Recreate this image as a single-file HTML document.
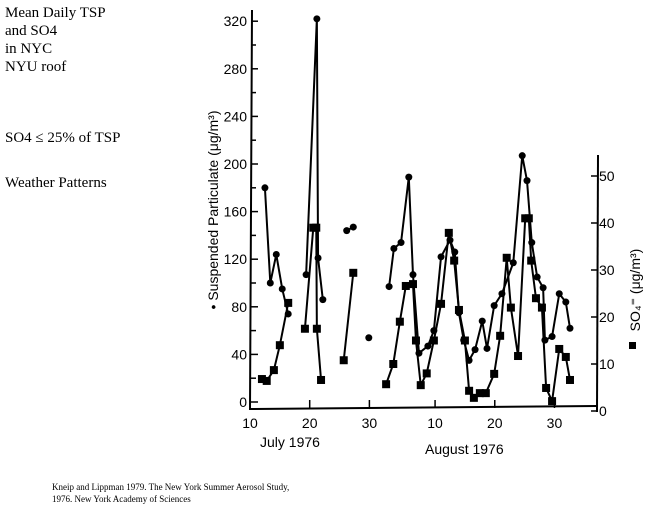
<!DOCTYPE html>
<html><head><meta charset="utf-8"><style>
body{margin:0;background:#fff;width:661px;height:512px;overflow:hidden;position:relative;font-family:"Liberation Serif",serif}
.t{position:absolute;font-size:15px;line-height:18px;color:#000}
</style></head><body>
<div class="t" style="left:5px;top:4px">Mean Daily TSP<br>and SO4<br>in NYC<br>NYU roof</div>
<div class="t" style="left:5px;top:129px">SO4 ≤ 25% of TSP</div>
<div class="t" style="left:5px;top:174px">Weather Patterns</div>
<div class="t" style="left:52px;top:481px;font-size:9px;line-height:12px">Kneip and Lippman 1979. The New York Summer Aerosol Study,<br>1976. New York Academy of Sciences</div>
<svg id="chart" width="661" height="512" style="position:absolute;left:0;top:0" font-family="Liberation Sans, sans-serif"></svg>
<script>
const xTicks=[10,20,30,41,51,61];
const xTickLabels=["10","20","30","10","20","30"];
const leftTicks=[0,40,80,120,160,200,240,280,320];
const rightTicks=[0,10,20,30,40,50];
// TSP segments (day, value); day counted from July 1 (Aug 1 = 32)
const tspDays=[[12.5,13.4,14.4,15.4,16.4],[19.4,21.2,21.4,22.2],[26.2,27.3],[29.9],
[33.3,34.1,35.3,36.6,37.3,38.3,39.8,40.8,42.0,43.5,44.3,45.0,45.8,46.7,47.7,48.9,49.7,50.9,52.2,54.1,55.6,56.4,57.2,58.1,59.1,59.4,60.6,61.8,62.9,63.6]];
const tspVals=[[180,100,124,95,74],[107,322,121,86],[144,147],[54],
[97,129,134,189,107,41,47,60,122,136,126,75,52,35,44,68,45,81,91,117,207,186,134,105,96,52,55,91,84,62]];
const so4Days=[[12.0,12.8,14.0,15.0,16.4],[19.2,20.6,21.1,21.2,21.9],[25.7,27.3],
[32.8,34.0,35.1,36.1,37.3,37.8,38.6,39.6,40.8,42.0,43.3,44.2,45.0,46.0,46.7,47.5,48.5,49.5,50.9,51.9,53.0,53.7,54.9,56.1,56.7,57.1,57.9,58.9,59.6,60.6,61.8,62.9,63.6]];
const so4Vals=[[6.8,6.4,8.7,14,23],[17.5,39,39,17.5,6.6],[10.8,29.4],
[5.7,10,19,26.6,27,15,5.5,8,15,22.8,37.9,32,21.5,15,4.3,2.8,3.8,3.8,7.9,16,32.6,22,11.7,41,41,32,24,22,4.9,2.1,13.2,11.5,6.6]];
const X=d=>250+(d-10)*5.97, YL=v=>402-v*47.6/40, YR=v=>411-v*4.7;
const svg=document.getElementById('chart'),NS='http://www.w3.org/2000/svg';
function mk(t,a,p){const e=document.createElementNS(NS,t);for(const k in a)e.setAttribute(k,a[k]);(p||svg).appendChild(e);return e;}
let e;
e=mk('path',{d:'M252,10 L250,409 L597,406',fill:'none',stroke:'#000','stroke-width':2});


e=mk('line',{x1:598,y1:155,x2:597,y2:412,stroke:'#000','stroke-width':2});


xTicks.forEach((d,i)=>{mk('line',{x1:X(d),y1:408,x2:X(d),y2:400,stroke:'#000','stroke-width':1.5});
e=mk('text',{x:X(d),y:428,'font-size':14,'text-anchor':'middle'});e.textContent=xTickLabels[i];

});
leftTicks.forEach(v=>{mk('line',{x1:251,y1:YL(v),x2:258,y2:YL(v),stroke:'#000','stroke-width':1.5});
if(v<320)mk('line',{x1:251,y1:YL(v+20),x2:256,y2:YL(v+20),stroke:'#000','stroke-width':1.5});
e=mk('text',{x:247,y:YL(v)+5,'font-size':14,'text-anchor':'end'});e.textContent=v;

});
rightTicks.forEach(v=>{mk('line',{x1:591,y1:YR(v),x2:598,y2:YR(v),stroke:'#000','stroke-width':1.5});
e=mk('text',{x:599,y:YR(v)+5,'font-size':14});e.textContent=v;

});
e=mk('text',{x:260,y:447,'font-size':14});e.textContent='July 1976';


e=mk('text',{x:425,y:454,'font-size':14});e.textContent='August 1976';


e=mk('text',{x:0,y:0,'font-size':14,'text-anchor':'middle',transform:'translate(218,210) rotate(-90)'});e.textContent='• Suspended Particulate (μg/m³)';


e=mk('text',{x:0,y:0,'font-size':14,'text-anchor':'middle',transform:'translate(640,290) rotate(-90)'});e.textContent='SO₄⁼ (μg/m³)';


e=mk('rect',{x:629,y:342,width:7,height:7,fill:'#000'});


tspDays.forEach((ds,s)=>{const pts=ds.map((d,i)=>[X(d),YL(tspVals[s][i])]);
e=mk('polyline',{points:pts.map(p=>p.join(',')).join(' '),fill:'none',stroke:'#000','stroke-width':2});


pts.forEach(p=>{e=mk('circle',{cx:p[0],cy:p[1],r:3.5,fill:'#000'});

});});
so4Days.forEach((ds,s)=>{const pts=ds.map((d,i)=>[X(d),YR(so4Vals[s][i])]);
e=mk('polyline',{points:pts.map(p=>p.join(',')).join(' '),fill:'none',stroke:'#000','stroke-width':2});


pts.forEach(p=>{e=mk('rect',{x:p[0]-4,y:p[1]-4,width:8,height:8,fill:'#000'});

});});
</script>
</body></html>
